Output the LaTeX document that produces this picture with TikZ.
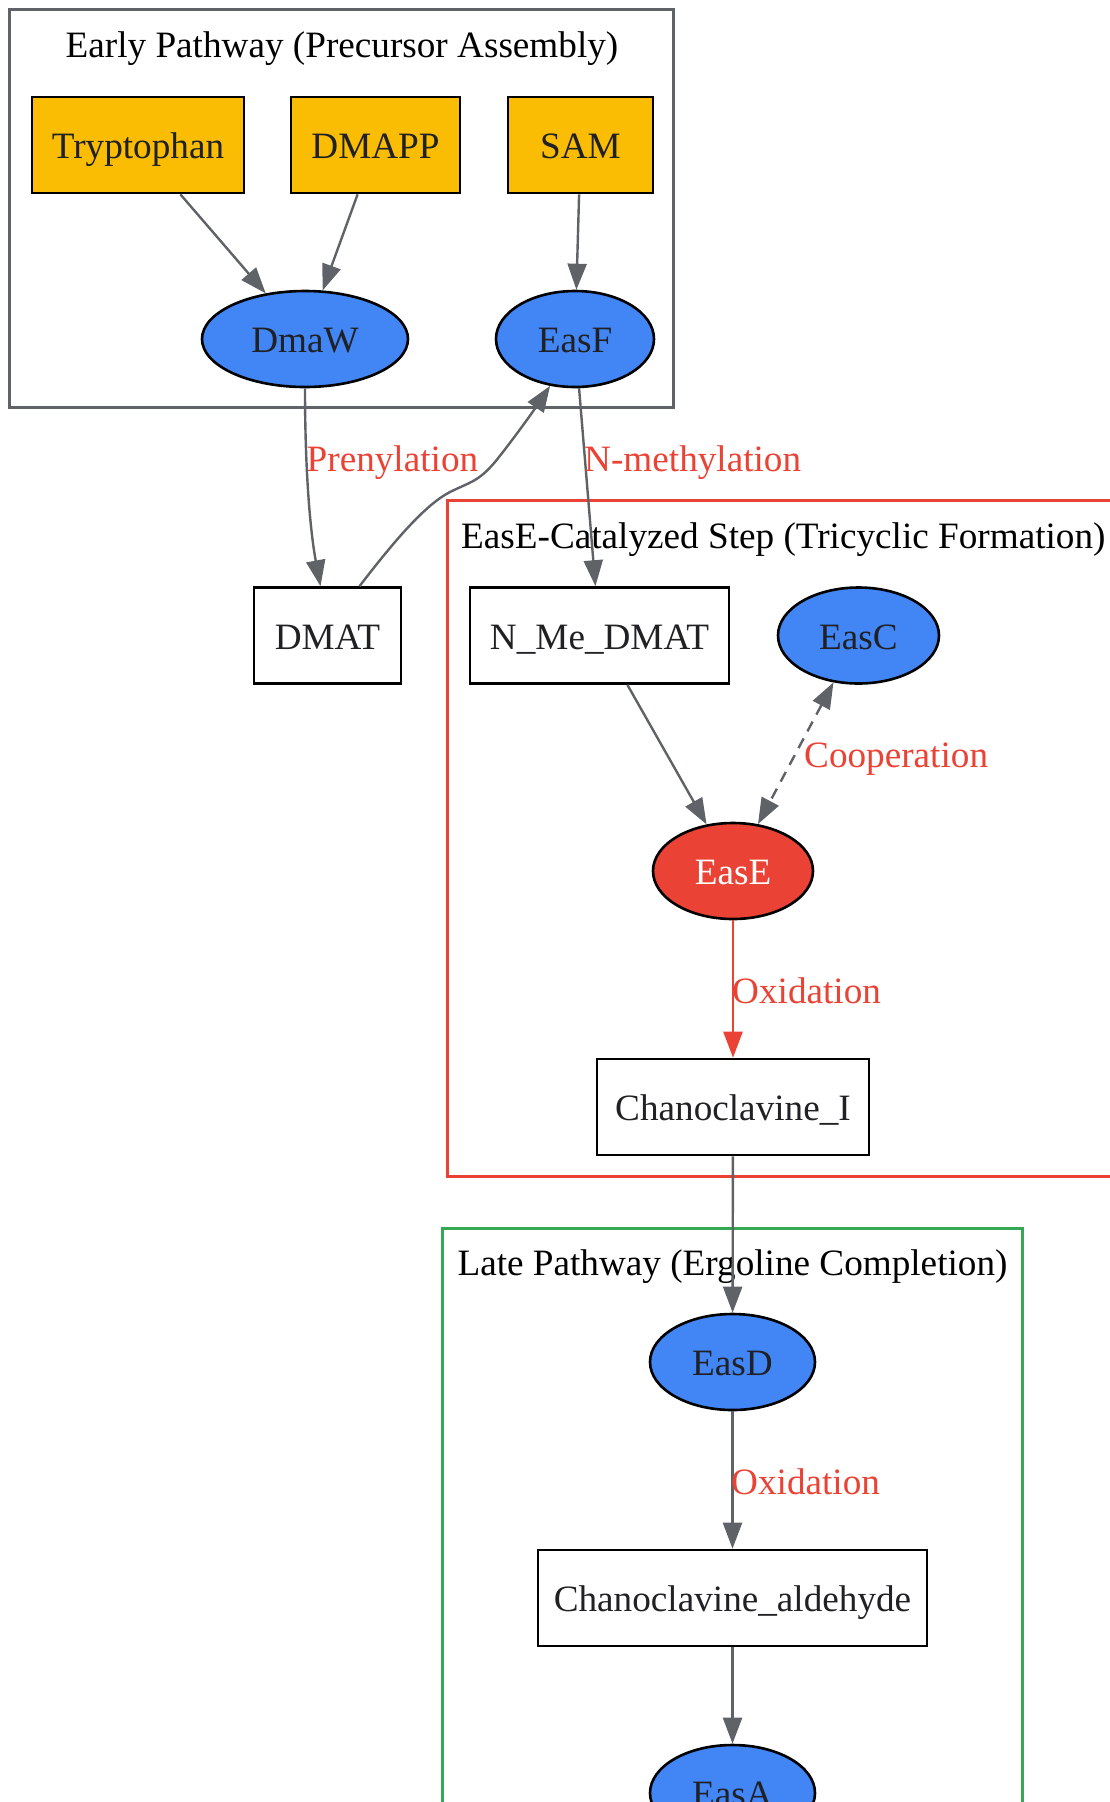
\documentclass[tikz,border=0pt]{standalone}
\usepackage{fontspec}
\setmainfont{Liberation Serif}
\usetikzlibrary{arrows.meta,shapes.geometric}
\definecolor{gyellow}{HTML}{FBBC04}
\definecolor{gblue}{HTML}{4285F4}
\definecolor{gred}{HTML}{EA4335}
\definecolor{ggreen}{HTML}{34A853}
\definecolor{ggray}{HTML}{5F6368}
\definecolor{gtext}{HTML}{202124}
\begin{document}
\begin{tikzpicture}[x=1pt,y=-1pt,
  >={Triangle[length=26pt,width=19pt]},
  every node/.style={font=\fontsize{37.2pt}{44pt}\selectfont},
  box/.style={draw=black, line width=2.6pt, rectangle, inner sep=0pt, minimum height=96pt, text=gtext, text height=27pt, text depth=0pt},
  ybox/.style={box, fill=gyellow},
  wbox/.style={box, fill=white},
  enz/.style={draw=black, line width=2.6pt, ellipse, inner sep=0pt, minimum height=96pt, fill=gblue, text=gtext, text height=27pt, text depth=0pt},
  edge/.style={color=ggray, line width=2.4pt, ->},
  biedge/.style={color=ggray, line width=2.4pt, <->, dash pattern=on 11pt off 8pt},
  redge/.style={color=gred, line width=2.4pt, ->},
  lbl/.style={text=gred, inner sep=0pt, anchor=west},
  ctitle/.style={text=black, inner sep=0pt},
  cluster/.style={line width=2.6pt}]
\useasboundingbox (0,0) rectangle (1110,1802);
\clip (0,0) rectangle (1110,1802);

% clusters
\draw[cluster, ggray] (9.5,9.5) rectangle (673.5,407.5);
\draw[cluster, gred] (447.5,500.5) rectangle (1130,1176.5);
\draw[cluster, ggreen] (442.5,1228.5) rectangle (1022.5,1830);
\node[ctitle] (t1) at (342,48.5) {Early Pathway (Precursor Assembly)};
\node[ctitle, anchor=west] (t2) at (461,539.5) {EasE-Catalyzed Step (Tricyclic Formation)};
\node[ctitle] (t3) at (732.5,1266.5) {Late Pathway (Ergoline Completion)};

% nodes
\node[ybox, minimum width=212pt] (tryp) at (138,145) {Tryptophan};
\node[ybox, minimum width=169pt] (dmapp) at (375.5,145) {DMAPP};
\node[ybox, minimum width=145pt] (sam) at (580.5,145) {SAM};
\node[enz, minimum width=206pt] (dmaw) at (305,339) {DmaW};
\node[enz, minimum width=158pt] (easf) at (575,339) {EasF};
\node[wbox, minimum width=147pt] (dmat) at (327.5,635.5) {DMAT};
\node[wbox, minimum width=259pt] (nme) at (599.5,635.5) {N\_Me\_DMAT};
\node[enz, minimum width=161pt] (easc) at (858.5,635.5) {EasC};
\node[enz, minimum width=160pt, fill=gred, text=white] (ease) at (733,871) {EasE};
\node[wbox, minimum width=272pt] (chano) at (733,1107) {Chanoclavine\_I};
\node[enz, minimum width=165pt] (easd) at (732.5,1362) {EasD};
\node[wbox, minimum width=389pt] (chanoald) at (732.5,1598) {Chanoclavine\_aldehyde};
\node[enz, minimum width=165pt] (easa) at (732.5,1793) {EasA};

% edges
\draw[edge] (tryp) -- (dmaw);
\draw[edge] (dmapp) -- (dmaw);
\draw[edge] (sam) -- (easf);
\draw[edge] (dmaw.south) .. controls (305,470) and (310,530) .. ([xshift=-7pt]dmat.north);
\draw[edge] ([xshift=32pt]dmat.north) .. controls (395,540) and (425,505) .. (450,492)
  .. controls (470,482) and (478,482) .. (495,462)
  .. controls (512,441) and (532,413) .. (easf.242);
\draw[edge] (easf) -- (nme);
\draw[edge] (nme) -- (ease);
\draw[biedge] (easc) -- (ease);
\draw[redge] (ease) -- (chano);
\draw[edge] (chano) -- (easd);
\draw[edge] (easd) -- (chanoald);
\draw[edge] (chanoald) -- (easa);

% edge labels
\node[lbl] (l1) at (306.5,463) {Prenylation};
\node[lbl] (l2) at (584,463) {N-methylation};
\node[lbl] (l3) at (804,759) {Cooperation};
\node[lbl] (l4) at (732,991) {Oxidation};
\node[lbl] (l5) at (731,1482) {Oxidation};
\end{tikzpicture}
\end{document}
